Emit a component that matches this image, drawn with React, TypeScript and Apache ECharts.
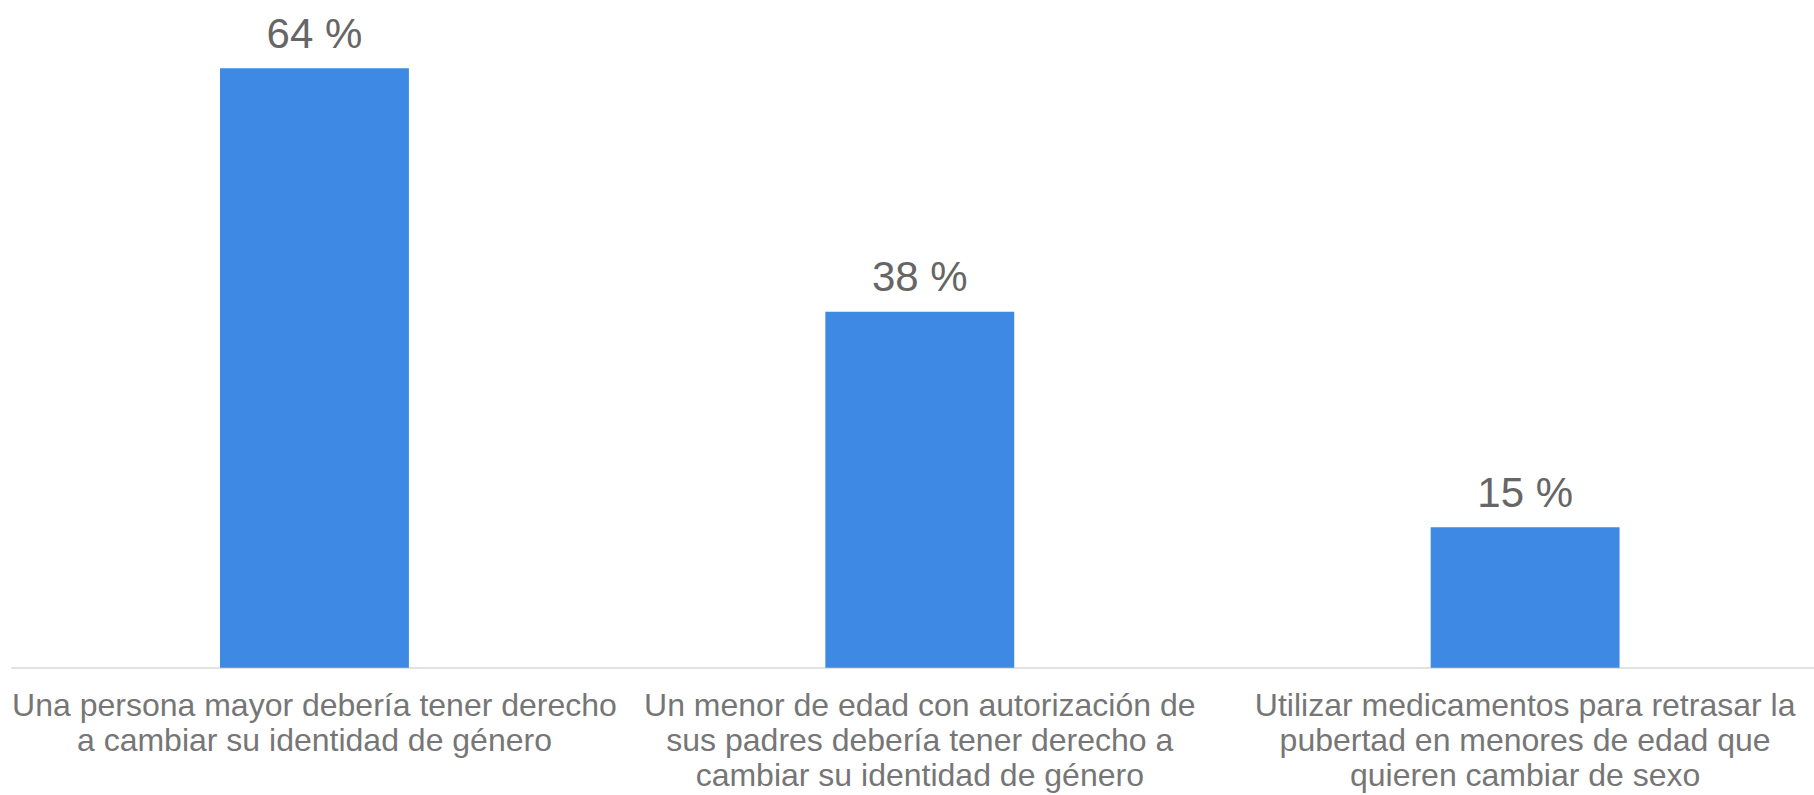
import React, { useEffect, useRef } from "react";
import * as echarts from "echarts";

const categories: string[] = [
  "Una persona mayor debería tener derecho\na cambiar su identidad de género",
  "Un menor de edad con autorización de\nsus padres debería tener derecho a\ncambiar su identidad de género",
  "Utilizar medicamentos para retrasar la\npubertad en menores de edad que\nquieren cambiar de sexo",
];
const values: number[] = [64, 38, 15];

export default function App() {
  const ref = useRef<HTMLDivElement>(null);
  useEffect(() => {
    if (!ref.current) return;
    const chart = echarts.init(ref.current, undefined, { renderer: "svg" });
    const font = "Arial, 'Liberation Sans', sans-serif";
    chart.setOption({
      animation: false,
      backgroundColor: "#ffffff",
      grid: { left: 11.8, top: 12, width: 1816, bottom: 127.3, containLabel: false },
      xAxis: {
        type: "category",
        data: categories,
        axisTick: { show: false },
        axisLine: { show: true, lineStyle: { color: "#d9d9d9", width: 1.5 } },
        axisLabel: {
          interval: 0,
          fontSize: 32,
          lineHeight: 35,
          color: "#767676",
          fontFamily: font,
          margin: 20,
          align: "center",
        },
      },
      yAxis: {
        type: "value",
        min: 0,
        max: 70,
        show: false,
        splitLine: { show: false },
      },
      series: [
        {
          type: "bar",
          data: values,
          barWidth: "31.2%",
          itemStyle: { color: "#3D89E4" },
          label: {
            show: true,
            position: "top",
            distance: 14,
            formatter: "{c} %",
            fontSize: 42,
            color: "#666666",
            fontFamily: font,
          },
        },
      ],
    });
    return () => chart.dispose();
  }, []);
  return (
    <div
      style={{
        position: "absolute",
        left: 0,
        top: 0,
        width: 1814,
        height: 795,
        overflow: "hidden",
        background: "#ffffff",
      }}
    >
      <div ref={ref} style={{ width: 1834, height: 795 }} />
    </div>
  );
}
